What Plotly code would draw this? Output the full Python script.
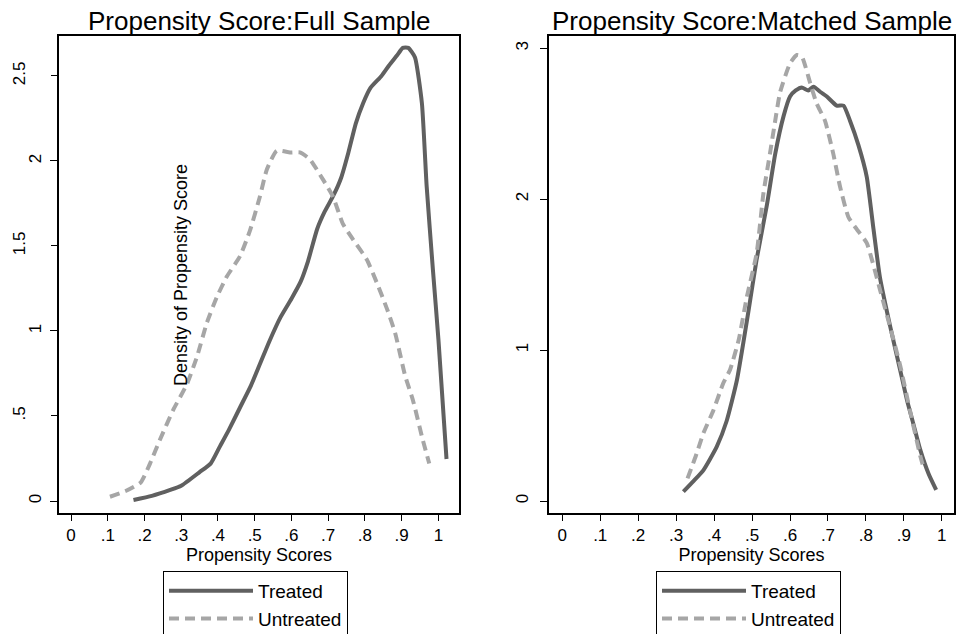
import plotly.graph_objects as go

# ---------------- data ----------------
full_treated_x = [0.17, 0.22, 0.27, 0.30, 0.35, 0.38, 0.405, 0.43, 0.46, 0.49, 0.515, 0.54, 0.57, 0.60,
                  0.625, 0.645, 0.67, 0.69, 0.715, 0.735, 0.755, 0.775, 0.795, 0.815, 0.845, 0.865,
                  0.887, 0.903, 0.918, 0.936, 0.955, 0.968, 0.985, 1.0, 1.022]
full_treated_y = [0.006, 0.03, 0.065, 0.09, 0.17, 0.22, 0.32, 0.42, 0.55, 0.68, 0.81, 0.94, 1.08, 1.19,
                  1.29, 1.41, 1.60, 1.70, 1.80, 1.90, 2.05, 2.22, 2.34, 2.43, 2.50, 2.56,
                  2.62, 2.665, 2.665, 2.61, 2.34, 1.85, 1.36, 0.95, 0.247]

full_untreated_x = [0.106, 0.15, 0.19, 0.215, 0.242, 0.278, 0.316, 0.343, 0.37, 0.397, 0.424, 0.46,
                    0.487, 0.514, 0.533, 0.56, 0.596, 0.623, 0.65, 0.686, 0.713, 0.74, 0.767, 0.805,
                    0.833, 0.86, 0.882, 0.909, 0.931, 0.955, 0.975]
full_untreated_y = [0.025, 0.06, 0.11, 0.22, 0.36, 0.535, 0.69, 0.85, 1.05, 1.20, 1.32, 1.44,
                    1.59, 1.79, 1.95, 2.06, 2.05, 2.05, 2.01, 1.89, 1.79, 1.63, 1.54, 1.42,
                    1.28, 1.13, 0.99, 0.74, 0.59, 0.38, 0.22]

matched_treated_x = [0.319, 0.345, 0.372, 0.407, 0.433, 0.46, 0.49, 0.512, 0.539, 0.561, 0.583, 0.60,
                     0.615, 0.631, 0.648, 0.662, 0.68, 0.697, 0.723, 0.741, 0.758, 0.78, 0.802, 0.82,
                     0.837, 0.864, 0.89, 0.908, 0.925, 0.943, 0.965, 0.985]
matched_treated_y = [0.062, 0.13, 0.205, 0.36, 0.53, 0.80, 1.25, 1.60, 1.96, 2.30, 2.55, 2.68,
                     2.72, 2.74, 2.72, 2.745, 2.71, 2.68, 2.62, 2.62, 2.52, 2.36, 2.15, 1.80,
                     1.48, 1.155, 0.87, 0.67, 0.51, 0.34, 0.18, 0.073]

matched_untreated_x = [0.33, 0.352, 0.372, 0.398, 0.424, 0.442, 0.465, 0.486, 0.512, 0.53, 0.547, 0.561,
                       0.574, 0.60, 0.618, 0.631, 0.653, 0.67, 0.692, 0.714, 0.732, 0.754, 0.776, 0.802,
                       0.837, 0.864, 0.89, 0.916, 0.943, 0.952]
matched_untreated_y = [0.15, 0.30, 0.45, 0.60, 0.78, 0.87, 1.07, 1.35, 1.64, 2.04, 2.30, 2.52,
                       2.71, 2.90, 2.955, 2.945, 2.77, 2.635, 2.52, 2.30, 2.08, 1.88, 1.80, 1.71,
                       1.40, 1.15, 0.90, 0.60, 0.30, 0.22]

xtick_vals = [0, 0.1, 0.2, 0.3, 0.4, 0.5, 0.6, 0.7, 0.8, 0.9, 1.0]
xtick_text = ["0", ".1", ".2", ".3", ".4", ".5", ".6", ".7", ".8", ".9", "1"]
left_ytick_vals = [0, 0.5, 1, 1.5, 2, 2.5]
left_ytick_text = ["0", ".5", "1", "1.5", "2", "2.5"]
right_ytick_vals = [0, 1, 2, 3]
right_ytick_text = ["0", "1", "2", "3"]

series_names = ["Treated", "Untreated"]
titles = ["Propensity Score:Full Sample", "Propensity Score:Matched Sample"]
x_title = "Propensity Scores"
y_title = "Density of Propensity Score"

# ---------------- style ----------------
W, H = 965, 634
FONT = "Liberation Sans, Arial, sans-serif"
TREATED_COLOR = "#606060"
UNTREATED_COLOR = "#a6a6a6"
SMOOTH = dict(shape="spline", smoothing=0.5)

def px_x(p):
    return p / W

def px_y(p):
    return (H - p) / H

fig = go.Figure()

fig.add_trace(go.Scatter(x=full_treated_x, y=full_treated_y, mode="lines", name=series_names[0],
                         line=dict(color=TREATED_COLOR, width=4, **SMOOTH), xaxis="x", yaxis="y",
                         legend="legend"))
fig.add_trace(go.Scatter(x=full_untreated_x, y=full_untreated_y, mode="lines", name=series_names[1],
                         line=dict(color=UNTREATED_COLOR, width=4, dash="10px,6px", **SMOOTH),
                         xaxis="x", yaxis="y", legend="legend"))
fig.add_trace(go.Scatter(x=matched_treated_x, y=matched_treated_y, mode="lines", name=series_names[0],
                         line=dict(color=TREATED_COLOR, width=4, **SMOOTH), xaxis="x2", yaxis="y2",
                         legend="legend2"))
fig.add_trace(go.Scatter(x=matched_untreated_x, y=matched_untreated_y, mode="lines", name=series_names[1],
                         line=dict(color=UNTREATED_COLOR, width=4, dash="10px,6px", **SMOOTH),
                         xaxis="x2", yaxis="y2", legend="legend2"))
# empty trace so the overlaid half-unit tick axis gets drawn
fig.add_trace(go.Scatter(x=[None], y=[None], mode="lines", xaxis="x", yaxis="y3",
                         showlegend=False, hoverinfo="skip"))

tickfont = dict(family=FONT, size=17, color="#000")
dom_y = [px_y(513), px_y(36)]
left_dom = [px_x(59), px_x(459)]
right_dom = [px_x(549), px_x(954)]
left_xrange = [-0.0327, 1.056]
left_yrange = [-0.0706, 2.735]
right_xrange = [-0.035, 1.032]
right_yrange = [-0.0795, 3.081]

int_vals = [v for v in left_ytick_vals if float(v).is_integer()]
int_text = [t for v, t in zip(left_ytick_vals, left_ytick_text) if float(v).is_integer()]
half_vals = [v for v in left_ytick_vals if not float(v).is_integer()]
half_text = [t for v, t in zip(left_ytick_vals, left_ytick_text) if not float(v).is_integer()]

xaxis_common = dict(tickvals=xtick_vals, ticktext=xtick_text, ticks="outside", ticklen=6, tickwidth=1.2,
                    tickcolor="#000", showline=True, linecolor="#000", linewidth=1.5, mirror=True,
                    showgrid=False, zeroline=False, tickfont=tickfont, ticklabelstandoff=0,
                    title=dict(text=x_title, font=dict(family=FONT, size=18, color="#000"), standoff=0))

legend_common = dict(xanchor="left", yanchor="top", xref="container", yref="container",
                     bgcolor="white", bordercolor="#000", borderwidth=1,
                     font=dict(family=FONT, size=19, color="#000"), itemwidth=84, tracegroupgap=0)

fig.update_layout(
    width=W, height=H,
    margin=dict(l=0, r=0, t=0, b=0, autoexpand=False),
    paper_bgcolor="white", plot_bgcolor="white",
    font=dict(family=FONT, color="#000"),
    xaxis=dict(domain=left_dom, anchor="y", range=left_xrange, **xaxis_common),
    xaxis2=dict(domain=right_dom, anchor="y2", range=right_xrange, **xaxis_common),
    yaxis=dict(domain=dom_y, anchor="x", range=left_yrange, tickvals=int_vals, ticktext=int_text,
               ticks="outside", ticklen=7, tickwidth=1.2, tickcolor="#000", tickangle=-90,
               ticklabelstandoff=2,
               showline=True, linecolor="#000", linewidth=1.5, mirror=True,
               showgrid=False, zeroline=False, tickfont=tickfont),
    yaxis3=dict(domain=dom_y, anchor="x", overlaying="y", range=left_yrange, tickvals=half_vals,
                ticktext=half_text, ticks="outside", ticklen=7, tickwidth=1.2, tickcolor="#000",
                tickangle=-90, ticklabelstandoff=19, showline=False, showgrid=False, zeroline=False,
                tickfont=tickfont),
    yaxis2=dict(domain=dom_y, anchor="x2", range=right_yrange, tickvals=right_ytick_vals,
                ticktext=right_ytick_text, ticks="outside", ticklen=7, tickwidth=1.2, tickcolor="#000",
                tickangle=-90, ticklabelstandoff=5,
                showline=True, linecolor="#000", linewidth=1.5, mirror=True,
                showgrid=False, zeroline=False, tickfont=tickfont),
    legend=dict(x=px_x(163), y=px_y(571), **legend_common),
    legend2=dict(x=px_x(656), y=px_y(571), **legend_common),
    showlegend=True,
)

annotations = [
    dict(text=titles[0], x=(left_dom[0] + left_dom[1]) / 2, y=px_y(21), xref="paper", yref="paper",
         xanchor="center", yanchor="middle", showarrow=False, font=dict(family=FONT, size=26, color="#000")),
    dict(text=titles[1], x=(right_dom[0] + right_dom[1]) / 2, y=px_y(21), xref="paper", yref="paper",
         xanchor="center", yanchor="middle", showarrow=False, font=dict(family=FONT, size=26, color="#000")),
    dict(text=y_title, x=px_x(181), y=px_y(275), xref="paper", yref="paper", textangle=-90,
         xanchor="center", yanchor="middle", showarrow=False, font=dict(family=FONT, size=18, color="#000")),
]
fig.update_layout(annotations=annotations)

fig.write_html("out.html")
